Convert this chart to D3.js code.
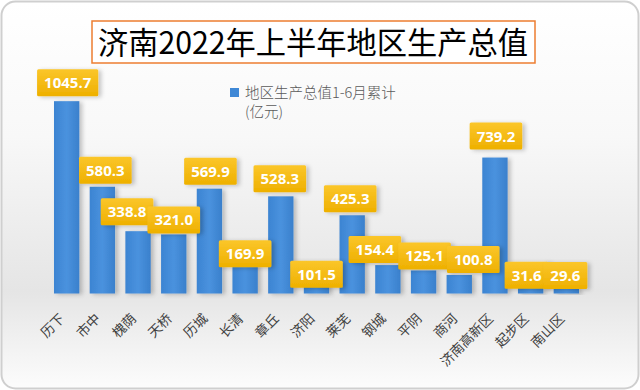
<!DOCTYPE html>
<html>
<head>
<meta charset="utf-8">
<script src="https://cdn.jsdelivr.net/npm/d3@7"></script>
<style>
  body { margin: 0; background: #fff; }
  svg { display: block; }
</style>
</head>
<body>
<script>
var W = 640, H = 390;

// data
var districts = ["历下", "市中", "槐荫", "天桥", "历城", "长清", "章丘", "济阳", "莱芜", "钢城", "平阴", "商河", "济南高新区", "起步区", "南山区"];
var gdp = [1045.7, 580.3, 338.8, 321.0, 569.9, 169.9, 528.3, 101.5, 425.3, 154.4, 125.1, 100.8, 739.2, 31.6, 29.6];
var titleText = "济南2022年上半年地区生产总值";
var legendLines = ["地区生产总值1-6月累计", "(亿元)"];

// label nudges (callouts dragged around in the original)
var labelDx = [1, 3, -11, 0, 1, 0, -1, 0, -2, -13, 1, 14, 1, -4, -1];
var labelDy = [-2, 0, -3, 2, -1, 8, -1, 16, 0, 1, 2, 1, -5, 4, 4];

var svg = d3.select("body").append("svg")
    .attr("width", W)
    .attr("height", H);

var defs = svg.append("defs");

var bg = defs.append("linearGradient").attr("id", "bg")
    .attr("x1", 0).attr("y1", 0).attr("x2", 0).attr("y2", 1);
bg.append("stop").attr("offset", "0%").attr("stop-color", "#ffffff");
bg.append("stop").attr("offset", "35%").attr("stop-color", "#f8f8f8");
bg.append("stop").attr("offset", "75%").attr("stop-color", "#e5e5e5");
bg.append("stop").attr("offset", "100%").attr("stop-color", "#fcfcfc");

var barGrad = defs.append("linearGradient").attr("id", "barGrad")
    .attr("x1", 0).attr("y1", 0).attr("x2", 1).attr("y2", 0);
barGrad.append("stop").attr("offset", "0%").attr("stop-color", "#3c84d2");
barGrad.append("stop").attr("offset", "50%").attr("stop-color", "#4a92de");
barGrad.append("stop").attr("offset", "100%").attr("stop-color", "#3a80cc");

var lblGrad = defs.append("linearGradient").attr("id", "lblGrad")
    .attr("x1", 0).attr("y1", 0).attr("x2", 0).attr("y2", 1);
lblGrad.append("stop").attr("offset", "0%").attr("stop-color", "#fbc62a");
lblGrad.append("stop").attr("offset", "100%").attr("stop-color", "#eeb000");

var shadow = defs.append("filter").attr("id", "shadow")
    .attr("x", "-30%").attr("y", "-10%").attr("width", "180%").attr("height", "130%");
shadow.append("feDropShadow").attr("dx", 3).attr("dy", 1).attr("stdDeviation", 2)
    .attr("flood-color", "#000").attr("flood-opacity", 0.22);

// card background
svg.append("rect")
    .attr("x", 1.5).attr("y", 1.5)
    .attr("width", W - 3).attr("height", H - 3)
    .attr("rx", 14)
    .attr("fill", "url(#bg)")
    .attr("stroke", "#cfcfcf")
    .attr("stroke-width", 2);

// title
svg.append("rect")
    .attr("x", 92).attr("y", 21)
    .attr("width", 443).attr("height", 42)
    .attr("fill", "#fff")
    .attr("stroke", "#ed7d31")
    .attr("stroke-width", 1.5);
svg.append("text")
    .attr("x", 313).attr("y", 54)
    .attr("text-anchor", "middle")
    .attr("font-family", "'Noto Sans CJK SC', sans-serif")
    .attr("font-size", 31)
    .attr("textLength", 430)
    .attr("lengthAdjust", "spacingAndGlyphs")
    .attr("fill", "#000")
    .text(titleText);

// scales
var x = d3.scaleBand().domain(districts).range([49, 584]).paddingInner(0.29).paddingOuter(0.14);
var y = d3.scaleLinear().domain([0, 1200]).range([293.5, 72.8]);

// legend
var legend = svg.append("g").attr("transform", "translate(230,88)");
legend.append("rect").attr("width", 9).attr("height", 9).attr("fill", "#3f88d6");
legend.selectAll("text").data(legendLines).enter().append("text")
    .attr("x", 15)
    .attr("y", (d, i) => 9.5 + i * 19)
    .attr("font-family", "'Noto Sans CJK SC', sans-serif")
    .attr("font-size", 14.5)
    .attr("font-weight", 300)
    .attr("fill", "#595959")
    .text(d => d);

// bars
svg.append("g").selectAll("rect")
    .data(gdp).enter().append("rect")
    .attr("x", (d, i) => x(districts[i]))
    .attr("y", d => y(d))
    .attr("width", x.bandwidth())
    .attr("height", d => y(0) - y(d))
    .attr("fill", "url(#barGrad)")
    .attr("filter", "url(#shadow)");

// x axis labels
var xAxis = d3.axisBottom(x).tickSize(0).tickPadding(0);
var gx = svg.append("g").attr("transform", "translate(0," + y(0) + ")").call(xAxis);
gx.select(".domain").remove();
gx.selectAll("text")
    .attr("font-family", "'Noto Sans CJK SC', sans-serif")
    .attr("font-size", 13.5)
    .attr("fill", "#404040")
    .attr("text-anchor", "end")
    .attr("dy", null)
    .attr("y", 0)
    .attr("transform", "translate(-1,26) rotate(-45)");

// data callouts
var labels = svg.append("g").selectAll("g")
    .data(gdp).enter().append("g");

labels.each(function (d, i) {
    var g = d3.select(this);
    var cx = x(districts[i]) + x.bandwidth() / 2 + labelDx[i];
    var bottom = y(d) - 3 + labelDy[i];
    var t = g.append("text")
        .attr("x", cx)
        .attr("y", bottom - 8)
        .attr("text-anchor", "middle")
        .attr("font-family", "'Open Sans', sans-serif")
        .attr("font-weight", 700)
        .attr("font-size", 15)
        .attr("fill", "#fff")
        .text(d3.format(".1f")(d));
    var tw = t.node().getComputedTextLength();
    g.insert("rect", "text")
        .attr("x", cx - tw / 2 - 7)
        .attr("y", bottom - 27)
        .attr("width", tw + 14)
        .attr("height", 27)
        .attr("rx", 1.5)
        .attr("fill", "url(#lblGrad)")
        .attr("filter", "url(#shadow)");
});
</script>
</body>
</html>
